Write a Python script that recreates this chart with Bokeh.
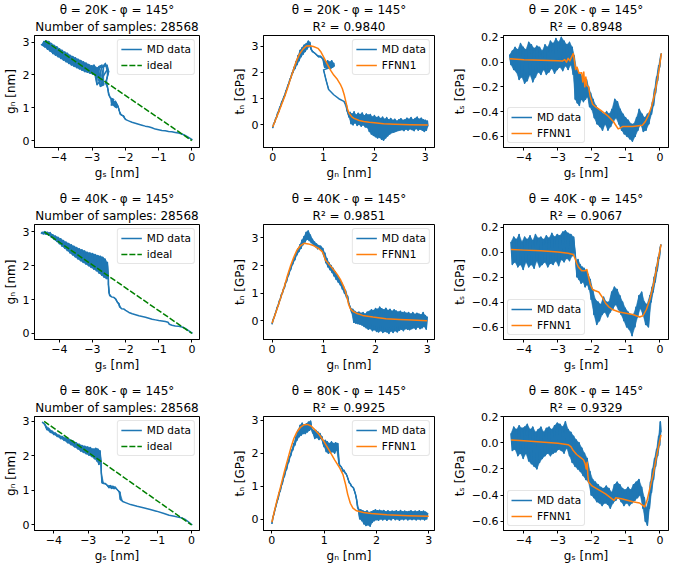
from bokeh.plotting import figure
from bokeh.layouts import column, row
from bokeh.models import Title, FixedTicker, Range1d
from bokeh.embed import file_html
from bokeh.resources import INLINE

# ---------------- data ----------------
temperatures = ["20K", "40K", "80K"]
phi_angle = "145°"
n_samples = "28568"
r2_tn = ["0.9840", "0.9851", "0.9925"]
r2_ts = ["0.8948", "0.9067", "0.9329"]

ticks_gs = [-4, -3, -2, -1, 0]
labels_gs = ["−4", "−3", "−2", "−1", "0"]
ticks_gn = [0, 1, 2, 3]
labels_gn = ["0", "1", "2", "3"]
ticks_ts = [-0.6, -0.4, -0.2, 0.0, 0.2]
labels_ts = ["−0.6", "−0.4", "−0.2", "0.0", "0.2"]

# ideal opening path (g_s, g_n)
ideal_20K = [(-4.42, 3.04), (0.0, 0.0)]
ideal_40K = [(-4.45, 3.0), (0.0, 0.0)]
ideal_80K = [(-4.28, 3.0), (0.0, 0.0)]

# MD trajectories (g_s, g_n)
gsgn_20K = [(0.02,0.02),(-0.10,0.10),(-0.20,0.16),(-0.30,0.20),(-0.40,0.23),(-0.50,0.25),(-0.60,0.27),(-0.70,0.28),
    (-0.80,0.30),(-0.90,0.31),(-1.00,0.33),(-1.10,0.35),(-1.20,0.39),(-1.30,0.42),(-1.40,0.44),(-1.50,0.47),
    (-1.60,0.50),(-1.70,0.53),(-1.80,0.56),(-1.90,0.60),(-1.97,0.63),(-2.02,0.67),(-2.05,0.75),(-2.10,0.77),
    (-2.15,0.80),(-2.18,0.90),(-2.20,0.98),(-2.22,1.05),(-2.30,1.20),(-2.26,1.00),(-2.35,1.18),(-2.30,1.02),
    (-2.40,1.15),(-2.33,1.05),(-2.38,1.22),(-2.28,1.10),(-2.42,1.08),(-2.35,1.25),(-2.45,1.30),(-2.50,1.40),
    (-2.52,1.55),(-2.55,1.70),(-2.60,1.75),(-2.55,1.90),(-2.50,2.10),(-2.55,2.30),(-2.65,2.25),(-2.70,2.00),
    (-2.65,1.70),(-2.75,1.65),(-2.80,1.85),(-2.72,2.20),(-2.60,2.35),(-2.55,2.15),(-2.70,1.90),(-2.85,1.70),
    (-2.90,1.95),(-2.80,2.25),(-2.70,2.30),(-2.78,2.20),(-2.82,1.92),(-2.85,2.22),(-2.90,1.98),(-2.94,2.30),
    (-2.98,2.02),(-3.02,2.28),(-3.06,2.05),(-3.10,2.32),(-3.14,2.08),(-3.18,2.36),(-3.22,2.10),(-3.26,2.40),
    (-3.30,2.14),(-3.34,2.44),(-3.38,2.18),(-3.42,2.48),(-3.46,2.22),(-3.50,2.52),(-3.54,2.26),(-3.58,2.56),
    (-3.62,2.30),(-3.66,2.60),(-3.70,2.35),(-3.74,2.66),(-3.78,2.40),(-3.82,2.70),(-3.86,2.45),(-3.90,2.75),
    (-3.94,2.50),(-3.98,2.80),(-4.02,2.55),(-4.06,2.86),(-4.10,2.60),(-4.14,2.90),(-4.18,2.65),(-4.22,2.96),
    (-4.26,2.72),(-4.30,3.02),(-4.34,2.78),(-4.38,3.04),(-4.42,2.85),(-4.45,3.02),(-4.48,2.90),(-4.52,2.92),
    (-4.45,2.88),(-4.38,3.05)]

gsgn_40K = [(0.02,0.00),(-0.10,0.08),(-0.20,0.15),(-0.30,0.19),(-0.40,0.21),(-0.50,0.22),(-0.60,0.24),(-0.68,0.27),
    (-0.72,0.33),(-0.80,0.35),(-0.90,0.37),(-1.00,0.38),(-1.10,0.40),(-1.20,0.42),(-1.30,0.45),(-1.40,0.48),
    (-1.50,0.50),(-1.60,0.52),(-1.70,0.55),(-1.80,0.58),(-1.90,0.62),(-2.00,0.68),(-2.05,0.72),(-2.12,0.73),
    (-2.18,0.78),(-2.20,0.88),(-2.25,0.92),(-2.30,1.02),(-2.35,1.06),(-2.42,1.08),(-2.48,1.12),(-2.50,1.20),
    (-2.52,1.45),(-2.52,1.70),(-2.52,1.60),(-2.55,2.10),(-2.58,1.62),(-2.62,2.20),(-2.65,1.66),(-2.69,2.25),
    (-2.72,1.72),(-2.76,2.28),(-2.80,1.78),(-2.84,2.30),(-2.88,1.85),(-2.92,2.33),(-2.96,1.90),(-3.00,2.36),
    (-3.04,1.95),(-3.08,2.38),(-3.12,2.00),(-3.16,2.40),(-3.20,2.05),(-3.24,2.44),(-3.28,2.10),(-3.32,2.47),
    (-3.36,2.15),(-3.40,2.50),(-3.44,2.20),(-3.48,2.54),(-3.52,2.26),(-3.56,2.58),(-3.60,2.32),(-3.64,2.62),
    (-3.68,2.38),(-3.72,2.66),(-3.76,2.45),(-3.80,2.70),(-3.84,2.52),(-3.88,2.75),(-3.92,2.58),(-3.96,2.80),
    (-4.00,2.65),(-4.04,2.84),(-4.08,2.72),(-4.12,2.88),(-4.16,2.78),(-4.20,2.92),(-4.24,2.84),(-4.28,2.98),
    (-4.32,2.90),(-4.36,2.99),(-4.40,2.93),(-4.44,3.01),(-4.48,2.94),(-4.52,2.99),(-4.55,2.95)]

gsgn_80K = [(0.02,0.00),(-0.10,0.10),(-0.20,0.17),(-0.30,0.21),(-0.37,0.22),(-0.50,0.25),(-0.65,0.28),(-0.80,0.33),
    (-1.02,0.40),(-1.20,0.45),(-1.40,0.50),(-1.58,0.54),(-1.77,0.59),(-1.90,0.64),(-2.00,0.68),(-2.07,0.74),
    (-2.08,0.95),(-2.12,0.98),(-2.18,1.05),(-2.22,1.10),(-2.25,1.05),(-2.28,1.12),(-2.32,1.06),(-2.36,1.14),
    (-2.40,1.08),(-2.45,1.15),(-2.50,1.20),(-2.55,1.20),(-2.60,1.22),(-2.62,1.50),(-2.63,1.85),(-2.66,2.15),
    (-2.69,1.75),(-2.72,2.20),(-2.75,1.85),(-2.78,2.22),(-2.82,1.92),(-2.86,2.20),(-2.90,1.98),(-2.94,2.24),
    (-2.98,2.02),(-3.02,2.26),(-3.06,2.06),(-3.10,2.28),(-3.14,2.10),(-3.18,2.30),(-3.22,2.14),(-3.26,2.34),
    (-3.30,2.20),(-3.35,2.38),(-3.40,2.26),(-3.45,2.44),(-3.50,2.32),(-3.55,2.48),(-3.60,2.38),(-3.65,2.52),
    (-3.70,2.45),(-3.75,2.56),(-3.80,2.50),(-3.85,2.60),(-3.90,2.56),(-3.95,2.66),(-4.00,2.62),(-4.05,2.72),
    (-4.10,2.68),(-4.15,2.80),(-4.20,2.76),(-4.25,2.90),(-4.30,2.95),(-4.34,2.98)]

# MD normal traction (g_n, t_n)
gntn_20K = [(0.00,-0.12),(0.02,0.05),(0.04,0.10),(0.06,0.25),(0.08,0.30),(0.10,0.48),(0.12,0.50),(0.14,0.68),
    (0.16,0.72),(0.18,0.90),(0.20,0.92),(0.22,1.08),(0.24,1.12),(0.26,1.30),(0.28,1.36),(0.30,1.52),(0.32,1.58),
    (0.34,1.75),(0.36,1.80),(0.38,1.98),(0.40,2.00),(0.42,2.20),(0.44,2.15),(0.46,2.42),(0.48,2.30),(0.50,2.65),
    (0.52,2.45),(0.54,2.85),(0.56,2.60),(0.58,2.95),(0.60,2.70),(0.62,3.05),(0.64,2.80),(0.66,3.10),(0.68,2.90),
    (0.70,3.20),(0.72,3.00),(0.73,3.15),(0.75,2.90),(0.78,2.80),(0.82,2.75),(0.86,2.68),(0.90,2.60),(0.94,2.62),
    (0.97,2.55),(1.00,2.50),(1.02,2.20),(1.04,2.40),(1.06,2.15),(1.08,2.45),(1.10,2.20),(1.12,2.40),(1.14,2.15),
    (1.16,2.45),(1.18,2.20),(1.20,2.35),(1.21,2.25),(1.00,2.10),(1.05,1.70),(1.10,1.35),(1.20,1.15),(1.30,1.00),
    (1.40,0.90),(1.45,0.75),(1.46,0.55),(1.48,0.45),(1.50,0.30),(1.52,0.48),(1.54,0.05),(1.56,0.42),(1.58,0.00),
    (1.60,0.50),(1.62,0.08),(1.64,0.38),(1.66,-0.02),(1.68,0.45),(1.70,0.02),(1.72,0.40),(1.74,-0.05),(1.76,0.46),
    (1.78,0.00),(1.80,0.35),(1.82,-0.08),(1.84,0.42),(1.86,-0.10),(1.88,0.38),(1.90,-0.25),(1.92,0.40),(1.94,-0.35),
    (1.96,0.30),(1.98,-0.40),(2.00,0.36),(2.02,-0.45),(2.04,0.28),(2.06,-0.50),(2.08,0.32),(2.10,-0.48),(2.12,0.25),
    (2.14,-0.55),(2.16,0.30),(2.18,-0.58),(2.20,0.22),(2.22,-0.50),(2.24,0.28),(2.26,-0.42),(2.28,0.20),(2.30,-0.35),
    (2.32,0.25),(2.34,-0.30),(2.36,0.18),(2.38,-0.28),(2.40,0.22),(2.42,-0.25),(2.44,0.15),(2.46,-0.22),(2.48,0.20),
    (2.50,-0.20),(2.52,0.24),(2.54,-0.18),(2.56,0.18),(2.58,-0.22),(2.60,0.20),(2.62,-0.16),(2.64,0.26),(2.66,-0.20),
    (2.68,0.22),(2.70,-0.15),(2.72,0.28),(2.74,-0.18),(2.76,0.20),(2.78,-0.22),(2.80,0.25),(2.82,-0.14),(2.84,0.30),
    (2.86,-0.20),(2.88,0.22),(2.90,-0.16),(2.92,0.26),(2.94,-0.20),(2.96,0.20),(2.98,-0.25),(3.00,0.18),(3.02,-0.20),
    (3.04,0.15),(3.05,-0.05)]

gntn_40K = [(0.00,-0.12),(0.02,0.05),(0.04,0.12),(0.06,0.25),(0.08,0.35),(0.10,0.50),(0.12,0.55),(0.14,0.72),
    (0.16,0.78),(0.18,0.95),(0.20,1.00),(0.22,1.15),(0.24,1.20),(0.26,1.38),(0.28,1.42),(0.30,1.60),(0.32,1.65),
    (0.34,1.82),(0.36,1.85),(0.38,2.02),(0.40,2.05),(0.42,2.22),(0.44,2.20),(0.46,2.42),(0.48,2.38),(0.50,2.60),
    (0.52,2.50),(0.54,2.75),(0.56,2.62),(0.58,2.92),(0.60,2.75),(0.62,3.05),(0.64,2.85),(0.66,3.20),(0.68,2.95),
    (0.70,3.25),(0.72,2.90),(0.74,3.10),(0.76,2.82),(0.78,2.95),(0.80,2.75),(0.82,2.85),(0.84,2.68),(0.86,2.78),
    (0.88,2.60),(0.90,2.72),(0.92,2.62),(0.94,2.70),(0.96,2.55),(0.98,2.62),(1.00,2.35),(1.02,2.45),(1.04,2.10),
    (1.06,2.25),(1.08,1.95),(1.10,2.10),(1.12,1.85),(1.14,2.00),(1.16,1.75),(1.18,1.90),(1.20,1.62),(1.22,1.78),
    (1.24,1.50),(1.26,1.65),(1.28,1.40),(1.30,1.52),(1.32,1.30),(1.34,1.40),(1.36,1.15),(1.38,1.25),(1.40,1.00),
    (1.42,1.10),(1.44,0.85),(1.46,0.90),(1.48,0.65),(1.50,0.55),(1.52,0.45),(1.54,0.30),(1.56,0.42),(1.58,-0.05),
    (1.60,0.35),(1.62,-0.08),(1.64,0.30),(1.66,-0.10),(1.68,0.32),(1.70,-0.12),(1.72,0.28),(1.74,-0.15),(1.76,0.30),
    (1.78,-0.20),(1.80,0.25),(1.82,-0.25),(1.84,0.32),(1.86,-0.30),(1.88,0.35),(1.90,-0.28),(1.92,0.40),(1.94,-0.35),
    (1.96,0.38),(1.98,-0.32),(2.00,0.45),(2.02,-0.38),(2.04,0.42),(2.06,-0.40),(2.08,0.50),(2.10,-0.35),(2.12,0.44),
    (2.14,-0.42),(2.16,0.40),(2.18,-0.38),(2.20,0.46),(2.22,-0.40),(2.24,0.38),(2.26,-0.45),(2.28,0.42),(2.30,-0.36),
    (2.32,0.35),(2.34,-0.42),(2.36,0.40),(2.38,-0.35),(2.40,0.36),(2.42,-0.40),(2.44,0.32),(2.46,-0.34),(2.48,0.35),
    (2.50,-0.30),(2.52,0.30),(2.54,-0.35),(2.56,0.32),(2.58,-0.28),(2.60,0.28),(2.62,-0.30),(2.64,0.30),(2.66,-0.32),
    (2.68,0.25),(2.70,-0.28),(2.72,0.30),(2.74,-0.25),(2.76,0.24),(2.78,-0.30),(2.80,0.28),(2.82,-0.22),(2.84,0.25),
    (2.86,-0.28),(2.88,0.22),(2.90,-0.25),(2.92,0.30),(2.94,-0.20),(2.96,0.20),(2.98,-0.30),(3.00,0.15)]

gntn_80K = [(0.00,-0.15),(0.02,0.05),(0.04,0.15),(0.06,0.30),(0.08,0.40),(0.10,0.55),(0.12,0.62),(0.14,0.80),
    (0.16,0.85),(0.18,1.02),(0.20,1.08),(0.22,1.25),(0.24,1.30),(0.26,1.48),(0.28,1.50),(0.30,1.70),(0.32,1.72),
    (0.34,1.90),(0.36,1.92),(0.38,2.10),(0.40,2.10),(0.42,2.30),(0.44,2.25),(0.46,2.50),(0.48,2.40),(0.50,2.70),
    (0.52,2.50),(0.54,2.85),(0.56,2.55),(0.58,2.92),(0.60,2.60),(0.62,2.85),(0.64,2.60),(0.66,2.90),(0.68,2.65),
    (0.70,2.95),(0.72,2.70),(0.74,2.98),(0.76,2.75),(0.78,2.62),(0.80,2.70),(0.82,2.45),(0.84,2.70),(0.86,2.48),
    (0.88,2.65),(0.90,2.42),(0.92,2.60),(0.94,2.45),(0.96,2.50),(0.98,2.30),(1.00,2.20),(1.02,2.40),(1.04,2.05),
    (1.06,2.35),(1.08,2.00),(1.10,2.30),(1.12,2.02),(1.14,2.35),(1.16,2.05),(1.18,2.30),(1.20,2.00),(1.22,2.32),
    (1.24,2.10),(1.26,2.30),(1.28,1.70),(1.30,1.62),(1.32,1.60),(1.34,1.55),(1.36,1.45),(1.38,1.48),(1.40,1.40),
    (1.42,1.38),(1.44,1.30),(1.46,1.20),(1.48,1.10),(1.50,1.08),(1.52,1.00),(1.54,0.98),(1.56,0.95),(1.58,0.85),
    (1.60,0.75),(1.62,0.60),(1.64,0.35),(1.66,0.30),(1.68,0.00),(1.70,0.28),(1.72,-0.05),(1.74,0.25),(1.76,-0.15),
    (1.78,0.22),(1.80,-0.20),(1.82,0.25),(1.84,-0.18),(1.86,0.20),(1.88,-0.22),(1.90,0.22),(1.92,-0.10),(1.94,0.25),
    (1.96,-0.05),(1.98,0.28),(2.00,-0.02),(2.02,0.25),(2.04,-0.04),(2.06,0.27),(2.08,0.00),(2.10,0.24),(2.12,-0.03),
    (2.14,0.26),(2.16,0.00),(2.18,0.22),(2.20,-0.04),(2.22,0.25),(2.24,0.00),(2.26,0.22),(2.28,-0.03),(2.30,0.24),
    (2.32,0.02),(2.34,0.23),(2.36,-0.02),(2.38,0.25),(2.40,0.00),(2.42,0.22),(2.44,-0.04),(2.46,0.26),(2.48,0.00),
    (2.50,0.22),(2.52,-0.02),(2.54,0.24),(2.56,0.01),(2.58,0.22),(2.60,-0.03),(2.62,0.23),(2.64,0.00),(2.66,0.25),
    (2.68,-0.02),(2.70,0.22),(2.72,0.00),(2.74,0.24),(2.76,-0.03),(2.78,0.22),(2.80,0.00),(2.82,0.25),(2.84,-0.02),
    (2.86,0.22),(2.88,0.00),(2.90,0.24),(2.92,-0.03),(2.94,0.21),(2.96,0.00),(2.98,0.18)]

# FFNN1 normal traction prediction (g_n, t_n)
ffnn_tn_20K = [(0.00,-0.08),(0.05,0.16),(0.11,0.45),(0.17,0.75),(0.24,1.10),(0.30,1.45),(0.34,1.70),(0.40,2.05),
    (0.43,2.24),(0.48,2.50),(0.53,2.71),(0.60,2.90),(0.66,3.01),(0.72,3.02),(0.80,2.99),(0.89,2.92),(0.95,2.78),
    (1.01,2.56),(1.07,2.33),(1.14,2.08),(1.20,1.90),(1.27,1.74),(1.33,1.55),(1.37,1.38),(1.41,1.12),(1.44,0.87),
    (1.47,0.62),(1.50,0.45),(1.55,0.32),(1.60,0.25),(1.70,0.17),(1.79,0.13),(1.90,0.10),(2.00,0.08),(2.18,0.05),
    (2.40,0.03),(2.70,0.01),(3.05,0.00)]
ffnn_tn_40K = [(0.00,-0.08),(0.05,0.18),(0.10,0.45),(0.17,0.85),(0.24,1.25),(0.30,1.65),(0.36,2.00),(0.42,2.30),
    (0.48,2.55),(0.55,2.72),(0.62,2.80),(0.70,2.78),(0.80,2.72),(0.90,2.62),(0.97,2.50),(1.00,2.38),(1.03,2.20),
    (1.10,2.05),(1.19,1.85),(1.26,1.68),(1.32,1.50),(1.37,1.30),(1.41,1.12),(1.45,0.85),(1.48,0.60),(1.51,0.45),
    (1.56,0.35),(1.63,0.28),(1.75,0.20),(1.95,0.14),(2.20,0.08),(2.46,0.05),(2.70,0.03),(3.00,0.01)]
ffnn_tn_80K = [(0.00,-0.10),(0.05,0.25),(0.10,0.58),(0.17,1.00),(0.24,1.45),(0.30,1.80),(0.36,2.15),(0.42,2.45),
    (0.48,2.65),(0.55,2.80),(0.62,2.87),(0.68,2.88),(0.75,2.83),(0.82,2.72),(0.90,2.58),(1.00,2.35),(1.10,2.08),
    (1.20,1.80),(1.30,1.55),(1.36,1.35),(1.41,1.05),(1.45,0.75),(1.50,0.48),(1.55,0.33),(1.62,0.25),(1.75,0.20),
    (1.90,0.17),(2.20,0.13),(2.60,0.10),(3.00,0.08)]

# MD shear traction (g_s, t_s)
gsts_20K = [(-4.42,0.06),(-4.38,-0.02),(-4.34,0.09),(-4.30,-0.06),(-4.26,0.12),(-4.22,-0.08),(-4.18,0.10),
    (-4.14,-0.14),(-4.10,0.15),(-4.06,-0.12),(-4.02,0.12),(-3.98,-0.17),(-3.94,0.10),(-3.90,-0.15),(-3.86,0.16),
    (-3.82,-0.10),(-3.78,0.14),(-3.74,-0.16),(-3.70,0.11),(-3.66,-0.12),(-3.62,0.13),(-3.58,-0.08),(-3.54,0.12),
    (-3.50,-0.10),(-3.46,0.09),(-3.42,-0.06),(-3.38,0.14),(-3.34,-0.10),(-3.30,0.12),(-3.26,-0.08),(-3.22,0.17),
    (-3.18,-0.05),(-3.14,0.15),(-3.10,-0.09),(-3.06,0.19),(-3.02,-0.06),(-2.98,0.16),(-2.94,-0.04),(-2.90,0.20),
    (-2.86,-0.07),(-2.82,0.17),(-2.78,-0.03),(-2.74,0.14),(-2.70,-0.06),(-2.66,0.16),(-2.62,-0.02),(-2.58,0.12),
    (-2.55,-0.10),(-2.52,0.05),(-2.49,-0.30),(-2.46,-0.05),(-2.43,-0.33),(-2.40,-0.08),(-2.37,-0.35),(-2.34,-0.10),
    (-2.31,-0.30),(-2.28,-0.12),(-2.25,-0.32),(-2.22,-0.15),(-2.19,-0.30),(-2.16,-0.14),(-2.13,-0.28),(-2.10,-0.20),
    (-2.07,-0.36),(-2.04,-0.25),(-2.01,-0.38),(-1.97,-0.30),(-1.93,-0.45),(-1.89,-0.35),(-1.85,-0.50),(-1.81,-0.38),
    (-1.77,-0.52),(-1.73,-0.40),(-1.69,-0.55),(-1.65,-0.42),(-1.61,-0.50),(-1.57,-0.40),(-1.53,-0.55),(-1.49,-0.42),
    (-1.45,-0.52),(-1.41,-0.38),(-1.37,-0.48),(-1.33,-0.30),(-1.29,-0.45),(-1.25,-0.32),(-1.21,-0.50),(-1.17,-0.38),
    (-1.13,-0.55),(-1.09,-0.42),(-1.05,-0.58),(-1.01,-0.45),(-0.97,-0.60),(-0.93,-0.47),(-0.89,-0.62),(-0.85,-0.50),
    (-0.81,-0.64),(-0.77,-0.50),(-0.73,-0.60),(-0.69,-0.45),(-0.65,-0.55),(-0.61,-0.38),(-0.57,-0.50),(-0.53,-0.42),
    (-0.49,-0.56),(-0.45,-0.45),(-0.41,-0.55),(-0.37,-0.42),(-0.33,-0.50),(-0.29,-0.40),(-0.25,-0.42),(-0.22,-0.32),
    (-0.19,-0.35),(-0.16,-0.22),(-0.13,-0.25),(-0.10,-0.12),(-0.07,-0.15),(-0.04,-0.03),(-0.01,-0.04),(0.02,0.05),
    (0.04,0.07)]

gsts_40K = [(-4.38,0.08),(-4.34,-0.10),(-4.30,0.12),(-4.26,-0.08),(-4.22,0.10),(-4.18,-0.12),(-4.14,0.14),
    (-4.10,-0.10),(-4.06,0.08),(-4.02,-0.14),(-3.98,0.12),(-3.94,-0.08),(-3.90,0.10),(-3.86,-0.12),(-3.82,0.13),
    (-3.78,-0.10),(-3.74,0.09),(-3.70,-0.13),(-3.66,0.14),(-3.62,-0.07),(-3.58,0.11),(-3.54,-0.12),(-3.50,0.12),
    (-3.46,-0.10),(-3.42,0.10),(-3.38,-0.08),(-3.34,0.13),(-3.30,-0.12),(-3.26,0.11),(-3.22,-0.09),(-3.18,0.15),
    (-3.14,-0.10),(-3.10,0.12),(-3.06,-0.07),(-3.02,0.14),(-2.98,-0.11),(-2.94,0.13),(-2.90,-0.06),(-2.86,0.16),
    (-2.82,-0.08),(-2.78,0.17),(-2.74,-0.05),(-2.70,0.15),(-2.66,-0.07),(-2.62,0.14),(-2.58,-0.03),(-2.54,0.12),
    (-2.50,0.00),(-2.47,-0.08),(-2.44,-0.20),(-2.41,-0.06),(-2.38,-0.22),(-2.35,-0.10),(-2.32,-0.25),(-2.29,-0.12),
    (-2.26,-0.24),(-2.23,-0.13),(-2.20,-0.28),(-2.17,-0.15),(-2.14,-0.26),(-2.11,-0.18),(-2.08,-0.30),(-2.05,-0.22),
    (-2.02,-0.38),(-1.98,-0.30),(-1.94,-0.50),(-1.90,-0.38),(-1.86,-0.58),(-1.82,-0.40),(-1.78,-0.55),(-1.74,-0.42),
    (-1.70,-0.50),(-1.66,-0.36),(-1.62,-0.48),(-1.58,-0.40),(-1.54,-0.52),(-1.50,-0.40),(-1.46,-0.48),(-1.42,-0.32),
    (-1.38,-0.45),(-1.34,-0.28),(-1.30,-0.42),(-1.26,-0.30),(-1.22,-0.46),(-1.18,-0.35),(-1.14,-0.50),(-1.10,-0.40),
    (-1.06,-0.55),(-1.02,-0.45),(-0.98,-0.60),(-0.94,-0.48),(-0.90,-0.62),(-0.86,-0.50),(-0.82,-0.67),(-0.78,-0.50),
    (-0.74,-0.60),(-0.70,-0.44),(-0.66,-0.52),(-0.62,-0.35),(-0.58,-0.45),(-0.54,-0.32),(-0.50,-0.50),(-0.46,-0.40),
    (-0.42,-0.58),(-0.38,-0.42),(-0.34,-0.60),(-0.30,-0.35),(-0.26,-0.40),(-0.23,-0.28),(-0.20,-0.32),(-0.17,-0.20),
    (-0.14,-0.24),(-0.11,-0.12),(-0.08,-0.15),(-0.05,-0.04),(-0.02,-0.05),(0.01,0.04),(0.03,0.06)]

gsts_80K = [(-4.38,0.07),(-4.34,-0.06),(-4.30,0.12),(-4.26,-0.05),(-4.22,0.10),(-4.18,-0.10),(-4.14,0.13),
    (-4.10,-0.08),(-4.06,0.11),(-4.02,-0.12),(-3.98,0.12),(-3.94,-0.08),(-3.90,0.14),(-3.86,-0.14),(-3.82,0.10),
    (-3.78,-0.16),(-3.74,0.12),(-3.70,-0.18),(-3.66,0.08),(-3.62,-0.20),(-3.58,0.10),(-3.54,-0.15),(-3.50,0.12),
    (-3.46,-0.12),(-3.42,0.08),(-3.38,-0.10),(-3.34,0.11),(-3.30,-0.08),(-3.26,0.12),(-3.22,-0.10),(-3.18,0.10),
    (-3.14,-0.08),(-3.10,0.13),(-3.06,-0.07),(-3.02,0.15),(-2.98,-0.05),(-2.94,0.14),(-2.90,-0.06),(-2.86,0.12),
    (-2.82,-0.08),(-2.78,0.16),(-2.74,-0.04),(-2.70,0.10),(-2.66,-0.10),(-2.62,0.08),(-2.58,-0.15),(-2.54,0.05),
    (-2.50,-0.18),(-2.46,0.02),(-2.42,-0.20),(-2.38,0.00),(-2.34,-0.22),(-2.30,-0.04),(-2.26,-0.25),(-2.22,-0.08),
    (-2.18,-0.28),(-2.14,-0.12),(-2.10,-0.30),(-2.06,-0.22),(-2.02,-0.40),(-1.98,-0.28),(-1.94,-0.42),(-1.90,-0.30),
    (-1.86,-0.45),(-1.82,-0.32),(-1.78,-0.46),(-1.74,-0.34),(-1.70,-0.48),(-1.66,-0.35),(-1.62,-0.46),(-1.58,-0.33),
    (-1.54,-0.47),(-1.50,-0.35),(-1.46,-0.50),(-1.42,-0.38),(-1.38,-0.46),(-1.34,-0.32),(-1.30,-0.44),(-1.26,-0.30),
    (-1.22,-0.42),(-1.18,-0.32),(-1.14,-0.45),(-1.10,-0.35),(-1.06,-0.48),(-1.02,-0.36),(-0.98,-0.46),(-0.94,-0.34),
    (-0.90,-0.48),(-0.86,-0.36),(-0.82,-0.46),(-0.78,-0.32),(-0.74,-0.44),(-0.70,-0.30),(-0.66,-0.42),(-0.62,-0.28),
    (-0.58,-0.40),(-0.54,-0.34),(-0.50,-0.50),(-0.46,-0.42),(-0.43,-0.60),(-0.40,-0.50),(-0.37,-0.63),(-0.34,-0.45),
    (-0.31,-0.50),(-0.28,-0.30),(-0.25,-0.38),(-0.22,-0.20),(-0.19,-0.28),(-0.16,-0.12),(-0.13,-0.18),(-0.10,-0.05),
    (-0.07,-0.10),(-0.04,0.05),(-0.01,-0.02),(0.01,0.16),(0.03,0.08)]

# FFNN1 shear traction prediction (g_s, t_s)
ffnn_ts_20K = [(-4.42,0.028),(-4.00,0.020),(-3.50,0.015),(-3.00,0.010),(-2.87,0.008),(-2.80,0.020),(-2.75,0.000),
    (-2.70,0.030),(-2.65,0.010),(-2.60,0.040),(-2.55,0.070),(-2.52,0.020),(-2.48,-0.060),(-2.44,-0.040),
    (-2.38,-0.090),(-2.30,-0.086),(-2.27,-0.160),(-2.24,-0.080),(-2.21,-0.200),(-2.18,-0.120),(-2.15,-0.190),
    (-2.10,-0.200),(-2.05,-0.280),(-1.98,-0.340),(-1.90,-0.360),(-1.74,-0.390),(-1.55,-0.430),(-1.37,-0.480),
    (-1.30,-0.510),(-1.23,-0.540),(-1.15,-0.530),(-1.09,-0.520),(-0.80,-0.520),(-0.52,-0.510),(-0.43,-0.480),
    (-0.34,-0.430),(-0.25,-0.360),(-0.15,-0.250),(-0.05,-0.100),(0.04,0.070)]
ffnn_ts_40K = [(-4.38,0.02),(-4.00,0.015),(-3.50,0.01),(-3.00,0.00),(-2.70,-0.01),(-2.55,-0.02),(-2.50,-0.05),
    (-2.45,-0.09),(-2.40,-0.12),(-2.30,-0.15),(-2.20,-0.15),(-2.15,-0.14),(-2.10,-0.20),(-2.05,-0.26),(-1.98,-0.30),
    (-1.90,-0.31),(-1.80,-0.32),(-1.70,-0.36),(-1.60,-0.41),(-1.50,-0.44),(-1.40,-0.46),(-1.20,-0.48),(-1.00,-0.49),
    (-0.80,-0.50),(-0.60,-0.52),(-0.50,-0.51),(-0.40,-0.46),(-0.30,-0.38),(-0.20,-0.27),(-0.10,-0.13),(0.03,0.06)]
ffnn_ts_80K = [(-4.38,0.02),(-4.00,0.015),(-3.50,0.005),(-3.00,-0.005),(-2.70,-0.015),(-2.62,-0.03),(-2.55,-0.06),
    (-2.45,-0.09),(-2.35,-0.11),(-2.25,-0.13),(-2.20,-0.16),(-2.17,-0.20),(-2.14,-0.15),(-2.12,-0.25),(-2.10,-0.30),
    (-2.00,-0.33),(-1.80,-0.36),(-1.60,-0.39),(-1.40,-0.43),(-1.35,-0.44),(-1.30,-0.42),(-1.10,-0.43),(-0.80,-0.45),
    (-0.60,-0.46),(-0.45,-0.49),(-0.38,-0.44),(-0.30,-0.35),(-0.20,-0.24),(-0.10,-0.10),(0.03,0.06)]

# ---------------- layout / styling ----------------
FONT = "DejaVu Sans"
BLUE = "#1f77b4"
ORANGE = "#ff7f0e"
GREEN = "#008000"

col_w = [220, 229, 220]
col_mbl = [30, 43, 50]
col_mbr = [21, 15, 1]
row_h = [189, 192, 184]
row_mbt = [30, 32, 35]
row_mbb = [42, 42, 35]

xr = [[(-4.73, 0.23), (-0.18, 3.18), (-4.6, 0.25)],
      [(-4.75, 0.23), (-0.165, 3.14), (-4.6, 0.25)],
      [(-4.56, 0.23), (-0.16, 3.11), (-4.6, 0.25)]]
yr = [[(-0.21, 3.20), (-0.86, 3.41), (-0.69, 0.215)],
      [(-0.18, 3.22), (-0.67, 3.48), (-0.70, 0.22)],
      [(-0.16, 3.14), (-0.35, 3.12), (-0.67, 0.20)]]


def split(pairs):
    return [a for a, b in pairs], [b for a, b in pairs]


def sweep_triangles(pairs, max_dx=0.1):
    # area swept between consecutive MD samples (renders the dense noise band)
    xs, ys = [], []
    for i in range(len(pairs) - 2):
        a, b, c = pairs[i], pairs[i + 1], pairs[i + 2]
        tx = [a[0], b[0], c[0]]
        if max(tx) - min(tx) <= max_dx + 1e-9:
            xs.append(tx)
            ys.append([a[1], b[1], c[1]])
    return xs, ys


def style_axis(ax, ticks, labels, text):
    ax.ticker = FixedTicker(ticks=ticks, minor_ticks=[])
    ax.major_label_overrides = {t: s for t, s in zip(ticks, labels)}
    ax.axis_label = text
    ax.axis_line_color = "black"
    ax.axis_line_width = 1
    ax.major_tick_line_color = "black"
    ax.major_tick_line_width = 1
    ax.major_tick_out = 3
    ax.major_tick_in = 0
    ax.minor_tick_line_color = None
    ax.major_label_text_font = FONT
    ax.major_label_text_font_size = "11px"
    ax.major_label_text_color = "black"
    ax.major_label_standoff = 2
    ax.axis_label_text_font = FONT
    ax.axis_label_text_font_size = "12px"
    ax.axis_label_text_font_style = "normal"
    ax.axis_label_text_color = "black"
    ax.axis_label_standoff = 2


def make_panel(r, c, xt, xl, yt, yl, xlabel, ylabel, line1, line2):
    p = figure(width=col_w[c], height=row_h[r],
               x_range=Range1d(*xr[r][c]), y_range=Range1d(*yr[r][c]),
               output_backend="svg", toolbar_location=None,
               min_border_left=col_mbl[c], min_border_right=col_mbr[c],
               min_border_top=row_mbt[r], min_border_bottom=row_mbb[r],
               background_fill_color="white", border_fill_color="white")
    p.xgrid.visible = False
    p.ygrid.visible = False
    p.outline_line_color = "black"
    p.outline_line_width = 1
    p.outline_line_alpha = 1.0
    style_axis(p.xaxis[0], xt, xl, xlabel)
    style_axis(p.yaxis[0], yt, yl, ylabel)
    p.title.text = line1
    p.title.align = "center"
    p.title.text_font = FONT
    p.title.text_font_size = "12px"
    p.title.text_font_style = "normal"
    p.title.text_color = "black"
    p.title.standoff = 0
    p.add_layout(Title(text=line2, align="center", text_font=FONT, text_font_size="12px",
                       text_font_style="normal", text_color="black", standoff=3), "above")
    return p


def style_legend(p, loc):
    lg = p.legend[0]
    lg.location = loc
    lg.label_text_font = FONT
    lg.label_text_font_size = "10.5px"
    lg.label_text_color = "black"
    lg.glyph_width = 21
    lg.glyph_height = 12
    lg.label_height = 12
    lg.label_standoff = 5
    lg.spacing = 4
    lg.padding = 3
    lg.margin = 4
    lg.border_line_color = "#cccccc"
    lg.border_line_width = 1
    lg.background_fill_color = "white"
    lg.background_fill_alpha = 0.8
    try:
        lg.border_radius = 3
    except Exception:
        pass


def draw_md(p, pairs):
    tx, ty = sweep_triangles(pairs)
    p.patches(tx, ty, fill_color=BLUE, line_color=BLUE, line_width=0.6)
    x, y = split(pairs)
    p.line(x, y, color=BLUE, line_width=1.5, line_join="round", legend_label="MD data")


md_traj = [gsgn_20K, gsgn_40K, gsgn_80K]
ideals = [ideal_20K, ideal_40K, ideal_80K]
md_tn = [gntn_20K, gntn_40K, gntn_80K]
nn_tn = [ffnn_tn_20K, ffnn_tn_40K, ffnn_tn_80K]
md_ts = [gsts_20K, gsts_40K, gsts_80K]
nn_ts = [ffnn_ts_20K, ffnn_ts_40K, ffnn_ts_80K]

rows = []
for r in range(3):
    head = "θ = " + temperatures[r] + " - φ = " + phi_angle
    p1 = make_panel(r, 0, ticks_gs, labels_gs, ticks_gn, labels_gn, "gₛ [nm]", "gₙ [nm]",
                    head, "Number of samples: " + n_samples)
    draw_md(p1, md_traj[r])
    x, y = split(ideals[r])
    p1.line(x, y, color=GREEN, line_width=1.5, line_dash="6 2", legend_label="ideal")
    style_legend(p1, "top_right")

    p2 = make_panel(r, 1, ticks_gn, labels_gn, ticks_gn, labels_gn, "gₙ [nm]", "tₙ [GPa]",
                    head, "R² = " + r2_tn[r])
    draw_md(p2, md_tn[r])
    x, y = split(nn_tn[r])
    p2.line(x, y, color=ORANGE, line_width=1.5, line_join="round", legend_label="FFNN1")
    style_legend(p2, "top_right")

    p3 = make_panel(r, 2, ticks_gs, labels_gs, ticks_ts, labels_ts, "gₛ [nm]", "tₛ [GPa]",
                    head, "R² = " + r2_ts[r])
    draw_md(p3, md_ts[r])
    x, y = split(nn_ts[r])
    p3.line(x, y, color=ORANGE, line_width=1.5, line_join="round", legend_label="FFNN1")
    style_legend(p3, "bottom_left")
    rows.append(row(p1, p2, p3, spacing=0))

layout = column(*rows, spacing=0)
open("out.html", "w").write(file_html(layout, INLINE))
